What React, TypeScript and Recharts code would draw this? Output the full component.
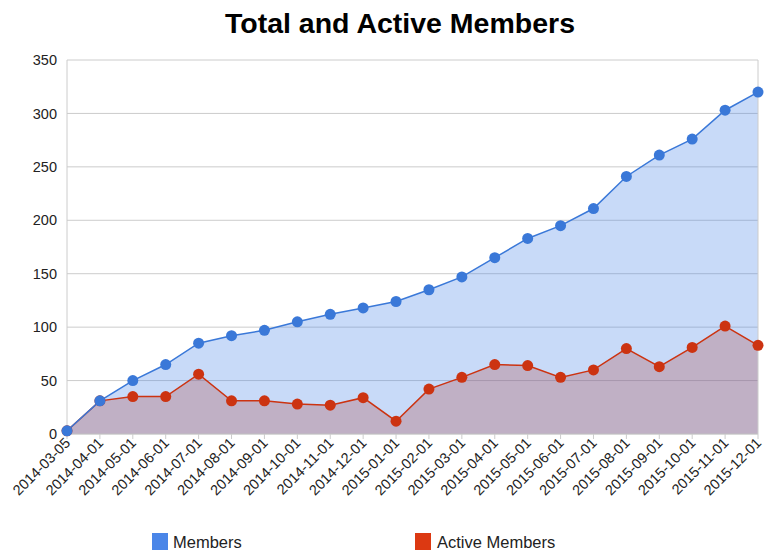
import React from 'react';
import {
  ComposedChart,
  Area,
  Line,
  XAxis,
  YAxis,
  CartesianGrid,
  ReferenceLine,
} from 'recharts';

const categories = [
  '2014-03-05', '2014-04-01', '2014-05-01', '2014-06-01', '2014-07-01', '2014-08-01',
  '2014-09-01', '2014-10-01', '2014-11-01', '2014-12-01', '2015-01-01', '2015-02-01',
  '2015-03-01', '2015-04-01', '2015-05-01', '2015-06-01', '2015-07-01', '2015-08-01',
  '2015-09-01', '2015-10-01', '2015-11-01', '2015-12-01',
];
const members = [3, 31, 50, 65, 85, 92, 97, 105, 112, 118, 124, 135, 147, 165, 183, 195, 211, 241, 261, 276, 303, 320];
const activeMembers = [3, 31, 35, 35, 56, 31, 31, 28, 27, 34, 12, 42, 53, 65, 64, 53, 60, 80, 63, 81, 101, 83];
const yTicks = [0, 50, 100, 150, 200, 250, 300, 350];

const data = categories.map((c, i) => ({ date: c, members: members[i], active: activeMembers[i] }));

const BLUE_FILL = '#4a86e8';
const RED_FILL = '#dc3912';
const BLUE_LINE = '#3a78d8';
const RED_LINE = '#cc3311';
const FONT = 'Arial, "Liberation Sans", sans-serif';

const XTick = (props: any) => {
  const { x, y, payload } = props;
  return (
    <g transform={`translate(${x},${y})`}>
      <text
        x={0}
        y={0}
        dy={5}
        dx={1}
        textAnchor="end"
        transform="rotate(-45)"
        fontSize={14.5}
        fill="#222"
        fontFamily={FONT}
      >
        {payload.value}
      </text>
    </g>
  );
};

export default function App() {
  return (
    <div style={{ position: 'absolute', left: 0, top: 0, width: 764, height: 550, overflow: 'hidden', background: '#fff', fontFamily: FONT }}>
      <div
        style={{
          position: 'absolute',
          left: 36,
          width: 728,
          top: 9,
          textAlign: 'center',
          fontSize: 28.5,
          lineHeight: '28px',
          fontWeight: 'bold',
          color: '#000',
        }}
      >
        Total and Active Members
      </div>
      <ComposedChart width={764} height={550} data={data} margin={{ top: 60, right: 6, left: 0, bottom: 36 }}>
        <CartesianGrid vertical={false} stroke="#cccccc" />
        <XAxis
          dataKey="date"
          scale="point"
          interval={0}
          height={80}
          tick={<XTick />}
          tickSize={5}
          tickMargin={2}
          stroke="#cccccc"
          axisLine={{ stroke: '#cccccc' }}
          tickLine={{ stroke: '#cccccc' }}
        />
        <YAxis
          width={67}
          domain={[0, 350]}
          ticks={yTicks}
          interval={0}
          tickLine={false}
          tickMargin={4}
          axisLine={{ stroke: '#cccccc' }}
          tick={{ fontSize: 14.5, fill: '#222', fontFamily: FONT }}
        />
        <ReferenceLine x={categories[categories.length - 1]} stroke="#cccccc" />
        <Area
          type="linear"
          dataKey="active"
          stroke="none"
          fill={RED_FILL}
          fillOpacity={0.3}
          dot={false}
          activeDot={false}
          isAnimationActive={false}
          legendType="none"
        />
        <Area
          type="linear"
          dataKey="members"
          stroke="none"
          fill={BLUE_FILL}
          fillOpacity={0.3}
          dot={false}
          activeDot={false}
          isAnimationActive={false}
          legendType="none"
        />
        <Line
          type="linear"
          dataKey="active"
          stroke={RED_LINE}
          strokeWidth={1.5}
          dot={{ r: 5.5, fill: RED_LINE, stroke: 'none' }}
          activeDot={false}
          isAnimationActive={false}
        />
        <Line
          type="linear"
          dataKey="members"
          stroke={BLUE_LINE}
          strokeWidth={1.5}
          dot={{ r: 5.5, fill: BLUE_LINE, stroke: 'none' }}
          activeDot={false}
          isAnimationActive={false}
        />
      </ComposedChart>
      <div style={{ position: 'absolute', left: 152, top: 533, width: 16, height: 17, background: BLUE_FILL }} />
      <div style={{ position: 'absolute', left: 173, top: 532, fontSize: 16.5, lineHeight: '20px', color: '#222' }}>Members</div>
      <div style={{ position: 'absolute', left: 415, top: 533, width: 16, height: 17, background: RED_FILL }} />
      <div style={{ position: 'absolute', left: 437, top: 532, fontSize: 16.5, lineHeight: '20px', color: '#222' }}>Active Members</div>
    </div>
  );
}
